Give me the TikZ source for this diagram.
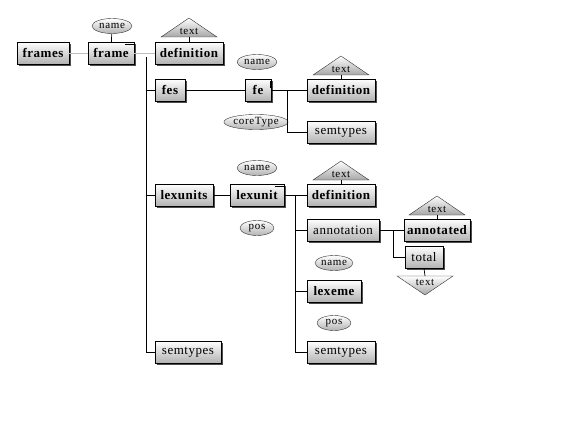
\documentclass[tikz,border=0pt]{standalone}
\usepackage{fontspec}
\setmainfont{Liberation Serif}
\newfontfamily\diagfont[LetterSpace=4]{Liberation Serif}
\newfontfamily\smallfont[LetterSpace=6]{Liberation Serif}
\usepackage{tikz}
\usetikzlibrary{positioning, shapes, shadows, calc}
\definecolor{boxgray}{RGB}{178, 178, 178}
\definecolor{linegray}{RGB}{190, 190, 190}

\begin{document}
\begin{tikzpicture}[
    x=1pt, y=-1pt,
    box/.style={rectangle, draw=black, top color=white, bottom color=boxgray, minimum height=22pt, inner sep=2pt, font=\diagfont\fontsize{13}{15}\selectfont\bfseries,
        drop shadow={shadow xshift=2pt, shadow yshift=-2pt, fill=black!70, opacity=1}},
    plainbox/.style={box, font=\diagfont\fontsize{13}{15}\selectfont},
    attr/.style={ellipse, draw=black!80, top color=white, bottom color=black!30, minimum height=15pt, inner sep=0pt, font=\smallfont\fontsize{11}{12}\selectfont},
    tri/.style={draw=black!80, top color=white, bottom color=black!35},
    tritext/.style={font=\smallfont\fontsize{11}{12}\selectfont, inner sep=0pt},
    link/.style={draw=black, line width=0.7pt},
    faint/.style={draw=linegray, line width=0.7pt},
    tick/.style={draw=black, line width=0.7pt}
]
    \useasboundingbox (0,0) rectangle (586,433);

    % elements
    \node[box, minimum width=52pt] (frames) at (43,53) {frames};
    \node[box, minimum width=46pt] (frame) at (111,53) {frame};
    \node[box, minimum width=68pt] (framedef) at (189,53) {definition};
    \node[box, minimum width=30pt] (fes) at (170,90) {fes};
    \node[box, minimum width=26pt] (fe) at (258,90) {fe};
    \node[box, minimum width=68pt] (fedef) at (341,90) {definition};
    \node[plainbox, minimum width=68pt] (fesem) at (341,132) {semtypes};
    \node[box, minimum width=58pt] (lexunits) at (184,195) {lexunits};
    \node[box, minimum width=54pt] (lexunit) at (257,195) {lexunit};
    \node[box, minimum width=68pt] (lexdef) at (341,195) {definition};
    \node[plainbox, minimum width=72pt] (annotation) at (343,230) {annotation};
    \node[box, minimum width=66pt] (annotated) at (437,230) {annotated};
    \node[plainbox, minimum width=38pt] (total) at (424,257) {total};
    \node[box, minimum width=54pt] (lexeme) at (334,291) {lexeme};
    \node[plainbox, minimum width=68pt] (lexsem) at (341,352) {semtypes};
    \node[plainbox, minimum width=66pt] (framesem) at (188,352) {semtypes};

    % attributes
    \node[attr, minimum width=40pt] (framename) at (112,26) {name};
    \node[attr, minimum width=40pt] (fename) at (257,62) {name};
    \node[attr, minimum width=54pt] (fecore) at (256,122) {coreType};
    \node[attr, minimum width=40pt] (luname) at (257,168) {name};
    \node[attr, minimum width=34pt] (lupos) at (257,228) {pos};
    \node[attr, minimum width=38pt] (lxname) at (334,263) {name};
    \node[attr, minimum width=34pt] (lxpos) at (334,323) {pos};

    % text contents
    \foreach \cx/\by/\nm in {189/37/framedef, 341/75/fedef, 341/180/lexdef, 437/215/annotated}{
        \shade[tri] (\cx-28,\by) -- (\cx+28,\by) -- (\cx,\by-19) -- cycle;
        \node[tritext] (\nm text) at (\cx,\by-6) {text};
        \draw[link] (\cx,\by) -- (\nm.north);
    }
    \shade[tri] (397,276) -- (453,276) -- (425,295) -- cycle;
    \node[tritext] (totaltext) at (425,282) {text};
    \draw[link] (425,276) -- (total.south);

    % connectors
    \draw[faint] (frames) -- (frame);
    \draw[faint] (frame) -- (framedef);
    \draw[link] (framename) -- (frame);

    \coordinate (trunkA) at (146,57);
    \draw[link] (trunkA) |- (framesem.west);
    \draw[link] (trunkA |- fes) -- (fes.west);
    \draw[link] (trunkA |- lexunits) -- (lexunits.west);

    \draw[link] (fes) -- (fe);
    \coordinate (trunkB) at (287,90);
    \draw[link] (fe) -- (fedef);
    \draw[link] (trunkB) |- (fesem.west);

    \draw[link] (lexunits) -- (lexunit);
    \coordinate (trunkC) at (295,195);
    \draw[link] (lexunit) -- (lexdef);
    \draw[link] (trunkC) |- (lexsem.west);
    \draw[link] (trunkC |- annotation) -- (annotation.west);
    \draw[link] (trunkC |- lexeme) -- (lexeme.west);

    \coordinate (trunkD) at (393,230);
    \draw[link] (annotation) -- (annotated);
    \draw[link] (trunkD) |- (total.west);

    % small marks
    \draw[tick] ($(frame.north east)+(-9,3)$) -- ++(9,0);
    \draw[tick] ($(fe.north east)+(-1,2)$) -- ++(0,7);
    \draw[tick] ($(lexunit.north east)+(-9,3)$) -- ++(9,0);
\end{tikzpicture}
\end{document}
